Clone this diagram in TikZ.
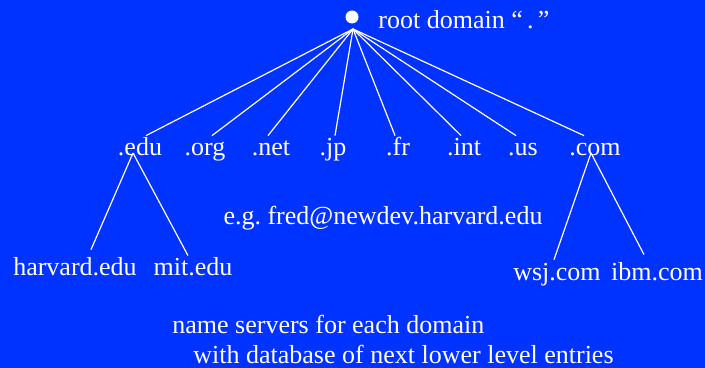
\documentclass[tikz,border=0pt]{standalone}
\usepackage{fontspec}
\setmainfont{Liberation Serif}
\usetikzlibrary{positioning,calc}
\definecolor{slideblue}{RGB}{0,51,255}
\tikzstyle{dom}=[text=white, inner sep=3pt, text height=0.7em, text depth=0.22em, anchor=base, font=\fontsize{13}{15}\selectfont]
\tikzstyle{note}=[text=white, inner sep=0pt, anchor=base west, font=\fontsize{13}{15}\selectfont]
\tikzstyle{branch}=[draw=white, line width=0.6pt]

\begin{document}
\frenchspacing
\begin{tikzpicture}[x=0.5pt, y=-0.5pt]
	\fill[slideblue] (0,0) rectangle (705,368);
	\useasboundingbox (0,0) rectangle (705,368);

	\node[circle, fill=white, inner sep=0pt, minimum size=6.5pt] (root) at (352,17) {};
	\node[note] (rootlbl) at (378,29) {root domain “\,.\,”};
	\coordinate (hub) at ($(root)+(1,12)$);

	\node[dom] (edu) at (140,156) {.edu};
	\node[dom] (org) at (205,156) {.org};
	\node[dom] (net) at (271,156) {.net};
	\node[dom] (jp) at (333,156) {.jp};
	\node[dom] (fr) at (398,156) {.fr};
	\node[dom] (int) at (464,156) {.int};
	\node[dom] (us) at (523,156) {.us};
	\node[dom] (com) at (595,156) {.com};

	\node[dom] (harvard) at (75,276) {harvard.edu};
	\node[dom] (mit) at (193,276) {mit.edu};
	\node[dom] (wsj) at (557,280) {wsj.com};
	\node[dom] (ibm) at (657,280) {ibm.com};

	\node[dom] (example) at (383,225) {e.g. fred@newdev.harvard.edu};
	\node[note] (servers) at (172,333) {name servers for each domain};
	\node[note] (database) at (193,363) {with database of next lower level entries};

	% top level
	\foreach \n/\dx in {edu/6, org/7, net/-3, jp/2, fr/-3, int/-3, us/-7, com/-11}
		\draw[branch] (hub) -- ($(\n.north)+(\dx,0)$);

	% second level
	\draw[branch] ($(edu.base)+(-7,-3)$) -- ($(harvard.north)+(16,-6)$);
	\draw[branch] ($(edu.base)+(-7,-3)$) -- ($(mit.north)+(-5,0)$);
	\draw[branch] ($(com.base)+(-4,-3)$) -- ($(wsj.north)+(-3,0)$);
	\draw[branch] ($(com.base)+(-4,-3)$) -- ($(ibm.north)+(-13,-5)$);
\end{tikzpicture}
\end{document}
